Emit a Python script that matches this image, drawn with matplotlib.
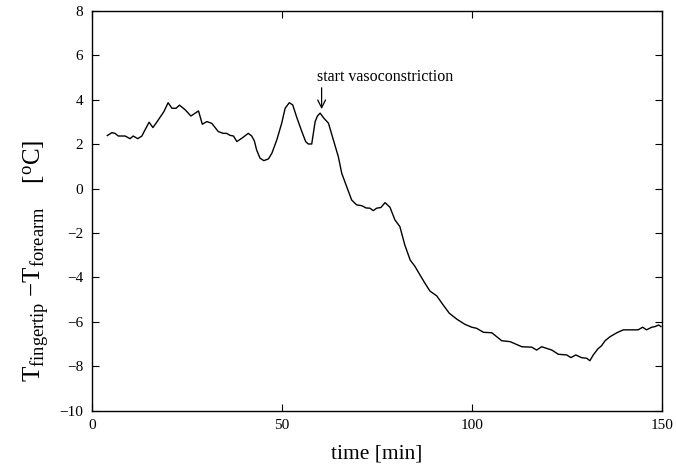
import matplotlib
import matplotlib.pyplot as plt
import matplotlib._mathtext as mt

# MATLAB-style subscripts: a little larger than mathtext's default
mt.SHRINK_FACTOR = 0.74

plt.rcParams['font.family'] = ['Liberation Serif', 'DejaVu Serif']
plt.rcParams['mathtext.fontset'] = 'custom'
plt.rcParams['mathtext.rm'] = 'Liberation Serif'
plt.rcParams['mathtext.it'] = 'Liberation Serif:italic'

# time [min]
time_min = [4.1, 5.3, 6.1, 7.0, 8.8, 10.1, 10.9, 12.1, 13.2, 14.0, 15.1, 16.1, 17.1,
            19.0, 20.1, 21.1, 22.2, 23.1, 24.6, 26.1, 28.1, 29.1, 30.3, 31.6, 33.3,
            34.6, 35.5, 36.4, 37.3, 38.2, 39.5, 41.2, 42.1, 42.8, 43.4, 44.3, 45.3,
            46.5, 47.4, 48.7, 50.0, 50.9, 52.0, 52.9, 53.9, 55.3, 56.3, 57.0, 57.9,
            58.8, 59.4, 60.1, 61.1, 62.3, 63.6, 64.9, 65.8, 67.1, 68.4, 69.7, 71.1,
            72.2, 73.2, 74.1, 75.0, 76.1, 77.2, 78.5, 79.8, 81.1, 82.4, 83.8, 85.1,
            86.4, 87.7, 89.0, 90.8, 92.5, 94.1, 96.1, 98.2, 100.0, 101.3, 103.1,
            105.3, 107.9, 110.1, 113.2, 115.8, 117.1, 118.4, 121.1, 122.8, 125.0,
            126.1, 127.4, 128.9, 130.3, 131.1, 132.0, 133.2, 134.2, 135.1, 136.4,
            138.2, 139.9, 143.8, 145.0, 146.0, 147.4, 148.3, 149.2, 149.8]
# T_fingertip - T_forearm [oC]
temp_diff = [2.39, 2.52, 2.49, 2.37, 2.37, 2.25, 2.37, 2.25, 2.37, 2.64, 2.99, 2.75, 2.99,
             3.47, 3.87, 3.62, 3.62, 3.76, 3.55, 3.27, 3.50, 2.90, 3.02, 2.94, 2.57,
             2.49, 2.49, 2.40, 2.37, 2.12, 2.27, 2.49, 2.37, 2.15, 1.74, 1.37, 1.26,
             1.34, 1.59, 2.19, 2.95, 3.62, 3.87, 3.77, 3.24, 2.57, 2.12, 2.01, 2.01,
             3.02, 3.27, 3.40, 3.17, 2.95, 2.19, 1.44, 0.69, 0.09, -0.51, -0.73, -0.77,
             -0.87, -0.88, -0.99, -0.88, -0.85, -0.63, -0.84, -1.41, -1.71, -2.54, -3.21, -3.51,
             -3.89, -4.26, -4.61, -4.83, -5.24, -5.61, -5.88, -6.11, -6.24, -6.29, -6.47,
             -6.49, -6.85, -6.89, -7.12, -7.14, -7.27, -7.12, -7.27, -7.46, -7.49,
             -7.61, -7.49, -7.61, -7.64, -7.75, -7.49, -7.22, -7.07, -6.85, -6.67,
             -6.49, -6.36, -6.36, -6.24, -6.36, -6.24, -6.21, -6.14, -6.21]

xticks = [0, 50, 100, 150]
yticks = [-10, -8, -6, -4, -2, 0, 2, 4, 6, 8]

fig = plt.figure(figsize=(6.76, 4.70), dpi=100)
ax = fig.add_axes([0.1357, 0.1262, 0.8431, 0.8504])

ax.plot(time_min, temp_diff, color='black', linewidth=1.0)

ax.set_xlim(0, 150)
ax.set_ylim(-10, 8)
ax.set_xticks(xticks)
ax.set_yticks(yticks)
ax.tick_params(direction='in', top=True, right=True, length=5, width=0.8,
               labelsize=11, pad=6)
for s in ax.spines.values():
    s.set_linewidth(1.0)

ax.set_xlabel('time [min]', fontsize=15.5, labelpad=9)
ax.set_ylabel(r'$\mathrm{T_{fingertip}\ {-}T_{forearm}\quad\ [^{o}C]}$', fontsize=18)
ax.yaxis.set_label_coords(-0.072, 0.375)

# annotation: vertical arrow with text above
ax.annotate('', xy=(60.5, 3.58), xytext=(60.5, 4.54),
            arrowprops=dict(arrowstyle='->', color='black', lw=0.9,
                            shrinkA=0, shrinkB=0, mutation_scale=14))
ax.text(59.2, 4.67, 'start vasoconstriction', fontsize=11.5, ha='left', va='bottom')

fig.savefig('out.png', dpi=100)
